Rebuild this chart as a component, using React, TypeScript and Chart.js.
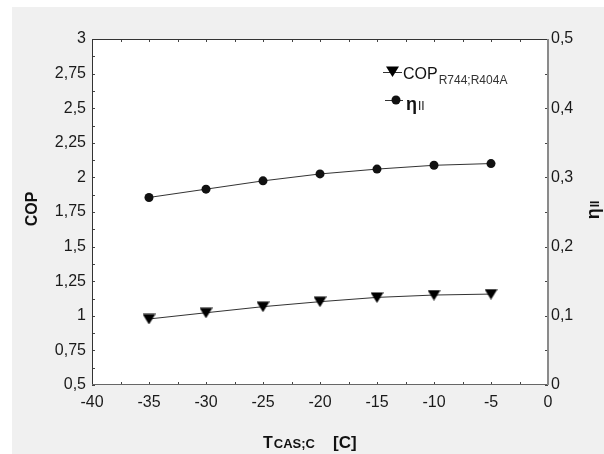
import React, { useEffect, useRef } from 'react';
import { Chart, registerables } from 'chart.js';

Chart.register(...registerables);

const temperatures = [-35, -30, -25, -20, -15, -10, -5];
const copValues = [0.977, 1.022, 1.066, 1.102, 1.133, 1.15, 1.157];
const etaValues = [0.271, 0.283, 0.295, 0.305, 0.312, 0.3175, 0.32];

const xRange = { min: -40, max: 0, step: 5, minor: 2.5 };
const copRange = { min: 0.5, max: 3, step: 0.25, minor: 0.125 };
const etaRange = { min: 0, max: 0.5, step: 0.1, minor: 0.05 };

const FONT = "'Liberation Sans', Arial, sans-serif";

function fmt(v: number): string {
  const r = Math.round(v * 1000) / 1000;
  return String(r).replace('.', ',');
}

function makeTriangle(): HTMLCanvasElement {
  const c = document.createElement('canvas');
  c.width = 13;
  c.height = 11;
  const ctx = c.getContext('2d')!;
  ctx.fillStyle = '#000';
  ctx.beginPath();
  ctx.moveTo(0, 0.5);
  ctx.lineTo(13, 0.5);
  ctx.lineTo(6.5, 11);
  ctx.closePath();
  ctx.fill();
  return c;
}

const decorPlugin = {
  id: 'decor',
  beforeDraw(chart: any) {
    const { ctx, chartArea: a, width, height } = chart;
    ctx.save();
    ctx.fillStyle = '#ffffff';
    ctx.fillRect(0, 0, width, height);
    ctx.fillStyle = '#f0f0f0';
    ctx.fillRect(12, 7, width - 12, height - 7);
    ctx.fillStyle = '#ffffff';
    ctx.fillRect(a.left, a.top, a.right - a.left, a.bottom - a.top);
    ctx.restore();
  },
  afterDraw(chart: any) {
    const { ctx, chartArea: a, scales } = chart;
    const xs = scales.x, ys = scales.y, y2 = scales.y2;
    ctx.save();
    // ticks (inward)
    ctx.strokeStyle = '#444';
    ctx.lineWidth = 1;
    ctx.beginPath();
    for (let v = xRange.min; v <= xRange.max + 1e-9; v += xRange.minor) {
      const px = Math.round(xs.getPixelForValue(v)) + 0.5;
      ctx.moveTo(px, a.bottom);
      ctx.lineTo(px, a.bottom - 3);
      ctx.moveTo(px, a.top);
      ctx.lineTo(px, a.top + 3);
    }
    for (let v = copRange.min; v <= copRange.max + 1e-9; v += copRange.minor) {
      const py = Math.round(ys.getPixelForValue(v)) + 0.5;
      ctx.moveTo(a.left, py);
      ctx.lineTo(a.left + 3, py);
    }
    for (let v = etaRange.min; v <= etaRange.max + 1e-9; v += etaRange.minor) {
      const py = Math.round(y2.getPixelForValue(v)) + 0.5;
      ctx.moveTo(a.right, py);
      ctx.lineTo(a.right - 3, py);
    }
    ctx.stroke();
    // border
    ctx.strokeStyle = '#333';
    ctx.beginPath();
    ctx.moveTo(a.left + 0.5, a.bottom);
    ctx.lineTo(a.left + 0.5, a.top + 0.5);
    ctx.lineTo(a.right, a.top + 0.5);
    ctx.stroke();
    ctx.strokeStyle = '#666';
    ctx.beginPath();
    ctx.moveTo(a.left, a.bottom - 0.5);
    ctx.lineTo(a.right, a.bottom - 0.5);
    ctx.stroke();
    ctx.strokeStyle = '#8a8a8a';
    ctx.lineWidth = 2;
    ctx.beginPath();
    ctx.moveTo(a.right, a.top);
    ctx.lineTo(a.right, a.bottom);
    ctx.stroke();

    // axis titles
    ctx.fillStyle = '#111';
    ctx.textBaseline = 'alphabetic';
    ctx.textAlign = 'left';
    ctx.font = `bold 16px ${FONT}`;
    ctx.fillText('T', 263, 448);
    const tw = ctx.measureText('T').width;
    ctx.font = `bold 13px ${FONT}`;
    ctx.fillText('CAS;C', 263 + tw + 1, 448);
    ctx.font = `bold 17px ${FONT}`;
    ctx.fillText('[C]', 333, 448);

    ctx.save();
    ctx.translate(33, 209);
    ctx.rotate(-Math.PI / 2);
    ctx.textAlign = 'center';
    ctx.textBaseline = 'middle';
    ctx.font = `bold 16px ${FONT}`;
    ctx.fillText('COP', 0, 0);
    ctx.restore();

    ctx.save();
    ctx.translate(595, 210);
    ctx.rotate(-Math.PI / 2);
    ctx.font = `bold 18px ${FONT}`;
    const ew = ctx.measureText('η').width;
    ctx.font = `bold 12px ${FONT}`;
    const iw = ctx.measureText('II').width;
    const total = ew + iw + 1;
    ctx.textAlign = 'left';
    ctx.textBaseline = 'alphabetic';
    ctx.font = `bold 18px ${FONT}`;
    ctx.fillText('η', -total / 2, 4);
    ctx.font = `bold 12px ${FONT}`;
    ctx.fillText('II', -total / 2 + ew + 1, 4);
    ctx.restore();

    // legend
    ctx.strokeStyle = '#333';
    ctx.lineWidth = 1;
    ctx.beginPath();
    ctx.moveTo(383, 72.5);
    ctx.lineTo(402, 72.5);
    ctx.moveTo(385, 100.5);
    ctx.lineTo(403, 100.5);
    ctx.stroke();
    ctx.fillStyle = '#000';
    ctx.beginPath();
    ctx.moveTo(386, 66.5);
    ctx.lineTo(399, 66.5);
    ctx.lineTo(392.5, 77);
    ctx.closePath();
    ctx.fill();
    ctx.fillStyle = '#111';
    ctx.beginPath();
    ctx.arc(396, 100, 4.5, 0, Math.PI * 2);
    ctx.fill();

    ctx.fillStyle = '#111';
    ctx.font = `16px ${FONT}`;
    ctx.fillText('COP', 403, 79);
    const cw = ctx.measureText('COP').width;
    ctx.fillStyle = '#333';
    ctx.font = `12px ${FONT}`;
    ctx.fillText('R744;R404A', 403 + cw + 1, 83.5);

    ctx.fillStyle = '#111';
    ctx.font = `bold 18px ${FONT}`;
    ctx.fillText('η', 406, 110);
    const ew2 = ctx.measureText('η').width;
    ctx.font = `12px ${FONT}`;
    ctx.fillText('II', 406 + ew2 + 1, 110);
    ctx.restore();
  },
};

export default function App() {
  const ref = useRef<HTMLCanvasElement>(null);
  useEffect(() => {
    if (!ref.current) return;
    const tri = makeTriangle();
    const tickFont = { family: FONT, size: 16 };
    const chart = new Chart(ref.current, {
      type: 'line',
      data: {
        datasets: [
          {
            label: 'COP R744;R404A',
            data: temperatures.map((t, i) => ({ x: t, y: copValues[i] })),
            yAxisID: 'y',
            borderColor: '#333',
            borderWidth: 1,
            pointStyle: tri as any,
            pointRadius: 6,
            tension: 0,
          },
          {
            label: 'ηII',
            data: temperatures.map((t, i) => ({ x: t, y: etaValues[i] })),
            yAxisID: 'y2',
            borderColor: '#333',
            borderWidth: 1,
            pointStyle: 'circle',
            pointRadius: 4.5,
            pointBackgroundColor: '#111',
            pointBorderColor: '#111',
            pointBorderWidth: 0,
            tension: 0,
          },
        ],
      },
      options: {
        animation: false,
        responsive: false,
        events: [],
        layout: { padding: { top: 39, left: 0, right: 0, bottom: 0 } },
        plugins: { legend: { display: false }, tooltip: { enabled: false }, title: { display: false } },
        scales: {
          x: {
            type: 'linear',
            min: xRange.min,
            max: xRange.max,
            grid: { display: false, drawTicks: false },
            border: { display: false },
            ticks: { stepSize: xRange.step, font: tickFont, color: '#1a1a1a', padding: 8, callback: (v: any) => fmt(Number(v)), maxRotation: 0 },
            afterFit: (s: any) => { s.height = 69; },
          },
          y: {
            type: 'linear',
            position: 'left',
            min: copRange.min,
            max: copRange.max,
            grid: { display: false, drawTicks: false },
            border: { display: false },
            ticks: { stepSize: copRange.step, font: tickFont, color: '#1a1a1a', padding: 6, callback: (v: any) => fmt(Number(v)) },
            afterFit: (s: any) => { s.width = 92; },
          },
          y2: {
            type: 'linear',
            position: 'right',
            min: etaRange.min,
            max: etaRange.max,
            grid: { display: false, drawTicks: false },
            border: { display: false },
            ticks: { stepSize: etaRange.step, font: tickFont, color: '#1a1a1a', padding: 3, callback: (v: any) => fmt(Number(v)) },
            afterFit: (s: any) => { s.width = 56; },
          },
        },
      } as any,
      plugins: [decorPlugin],
    });
    return () => chart.destroy();
  }, []);
  return (
    <div style={{ position: 'absolute', left: 0, top: 0, width: 604, height: 454 }}>
      <canvas ref={ref} width={604} height={454} style={{ display: 'block', width: 604, height: 454 }} />
    </div>
  );
}
